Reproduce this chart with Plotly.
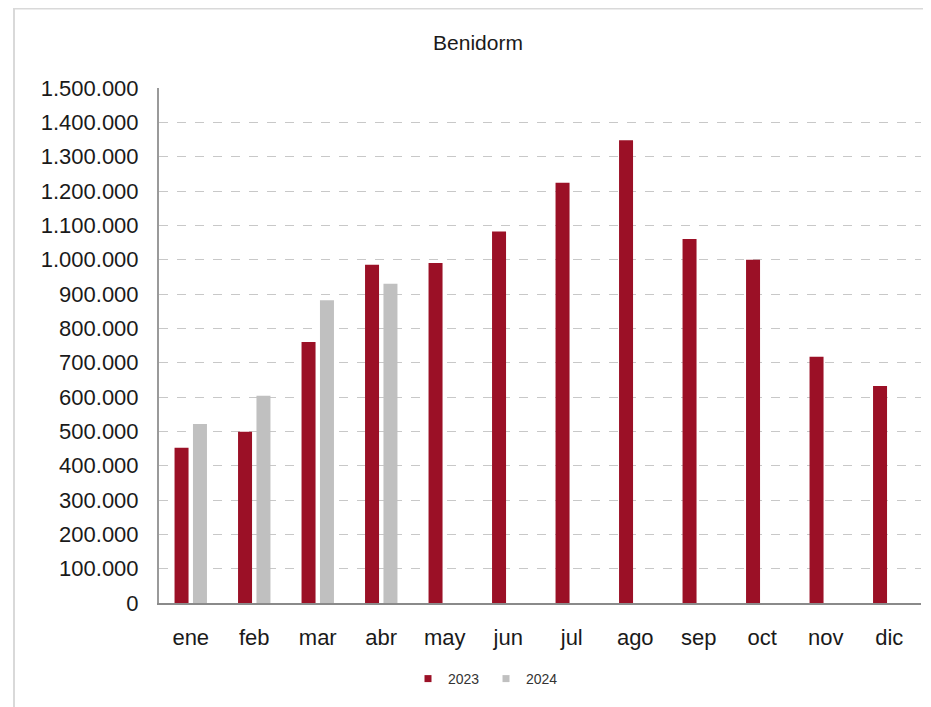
import plotly.graph_objs as go

months = ["ene", "feb", "mar", "abr", "may", "jun", "jul", "ago", "sep", "oct", "nov", "dic"]
visitors_2023 = [452000, 499000, 760000, 985000, 990000, 1082000, 1224000, 1348000, 1060000, 1000000, 717000, 632000]
visitors_2024 = [521000, 604000, 882000, 930000, None, None, None, None, None, None, None, None]
series_names = ["2023", "2024"]
series_colors = ["#9b1026", "#c0c0c0"]
y_ticks = list(range(0, 1500001, 100000))

# the page puts an 8px body margin around the figure, so everything is laid out 8px up/left
OFF = 8
W, H = 931 - OFF, 707 - OFF
L, R, T, B = 159 - OFF, 921 - OFF, 88 - OFF, 603 - OFF  # plot area in figure pixels


def px_x(p):
    return (p - L) / (R - L)


def px_y(p):
    return (B - p) / (B - T)


fig = go.Figure()
for name, values, color in zip(series_names, [visitors_2023, visitors_2024], series_colors):
    fig.add_trace(go.Bar(x=months, y=values, name=name, showlegend=False,
                         marker=dict(color=color, line=dict(width=0))))
    # small square legend keys like the original
    fig.add_trace(go.Scatter(x=[None], y=[None], mode="markers", name=name,
                             marker=dict(symbol="square", size=7, color=color)))

font_main = "Liberation Sans, Arial, sans-serif"

fig.update_layout(
    width=W, height=H,
    margin=dict(l=L, r=W - R, t=T, b=H - B),
    paper_bgcolor="white", plot_bgcolor="white",
    separators=",.",
    barmode="group", bargap=0.42, bargroupgap=0.24,
    font=dict(family=font_main, color="#1a1a1a"),
    title=dict(text="Benidorm", x=(478 - OFF) / W, xref="container", xanchor="center",
               y=1 - (43 - OFF) / H, yref="container", yanchor="middle",
               font=dict(size=21, color="#1a1a1a")),
    showlegend=True,
    legend=dict(orientation="h", x=(486 - OFF) / W, xref="container", xanchor="center",
                y=1 - (679 - OFF) / H, yref="container", yanchor="middle",
                font=dict(size=14, color="#333333"), itemwidth=30,
                entrywidth=33, entrywidthmode="pixels",
                traceorder="normal"),
    shapes=[dict(type="rect", xref="paper", yref="paper",
                 x0=px_x(14 - OFF), x1=px_x(W + 40), y0=px_y(H + 40), y1=px_y(0.5),
                 line=dict(color="#d9d9d9", width=2), layer="below")],
)

fig.update_yaxes(
    range=[0, 1500000], tickvals=y_ticks, tickformat=",d",
    showgrid=True, gridcolor="#c8c8c8", griddash="dash", gridwidth=1,
    showline=True, linecolor="#9a9a9a", linewidth=2,
    zeroline=False, ticks="", ticklabelstandoff=14,
    tickfont=dict(size=22, family=font_main, color="#1a1a1a"),
)
fig.update_xaxes(
    showline=True, linecolor="#8a8a8a", linewidth=2,
    showgrid=False, ticks="", ticklabelstandoff=14,
    tickfont=dict(size=22, family=font_main, color="#1a1a1a"),
)

fig.write_html("out.html")
